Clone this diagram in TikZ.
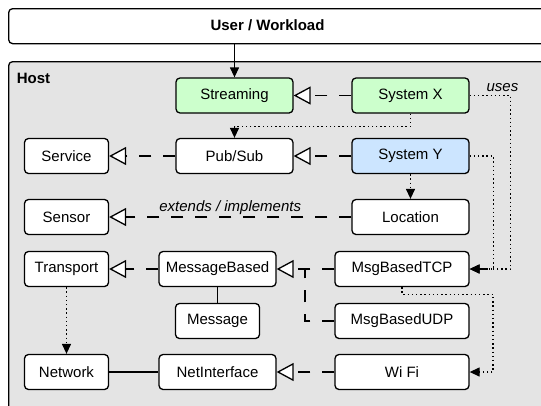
\documentclass[tikz,border=0pt]{standalone}
\usepackage{fontspec}
\setmainfont{Liberation Sans}
\usetikzlibrary{arrows.meta}

\definecolor{hostgray}{HTML}{E4E4E4}
\definecolor{sysgreen}{HTML}{CCFFCC}
\definecolor{sysblue}{HTML}{CCE5FF}

\begin{document}
\begin{tikzpicture}[
          x=1pt, y=-1pt,
          font=\fontsize{15}{18}\selectfont,
          cls/.style={
            draw=black,
            line width=1.3pt,
            rounded corners=4pt,
            fill=white,
            minimum height=35pt,
            inner sep=0pt,
          },
          narrow/.style={cls, minimum width=84pt},
          mid/.style={cls, minimum width=117pt},
          wide/.style={cls, minimum width=134pt},
          realizes/.style={
            line width=1.3pt,
            dash pattern=on 12pt off 12pt,
            -{Triangle[open, fill=white, length=17pt, width=18pt]},
          },
          uses/.style={
            line width=1.3pt,
            dash pattern=on 1.4pt off 2.8pt,
            -{Triangle[length=10pt, width=9pt]},
          },
        ]
          \useasboundingbox (0,0) rectangle (541,405);
          % outer frames
          \node[cls, anchor=north west, minimum width=600pt](user) at (8,8) {};
          \node[font=\fontsize{15}{18}\selectfont\bfseries](userlbl) at (267.5,25.5) {User / Workload};
          \node[cls, fill=hostgray, anchor=north west, minimum width=600pt, minimum height=400pt](host) at (8,61) {};
          \node[font=\fontsize{15}{18}\selectfont\bfseries](hostlbl) at (33.5,78) {Host};
          % classes
          \node[mid, fill=sysgreen](stream) at (234.5,95.5) {Streaming};
          \node[mid, fill=sysgreen](sysx) at (410.5,95.5) {System X};
          \node[narrow](service) at (66.5,156) {Service};
          \node[mid](pubsub) at (234.5,156) {Pub/Sub};
          \node[mid, fill=sysblue](sysy) at (410.5,156) {System Y};
          \node[narrow](sensor) at (66.5,217) {Sensor};
          \node[mid](loc) at (410.5,217) {Location};
          \node[narrow](transport) at (66.5,269) {Transport};
          \node[mid](mb) at (217.5,269) {MessageBased};
          \node[wide](tcp) at (402,269) {MsgBasedTCP};
          \node[narrow](msg) at (217.5,321) {Message};
          \node[wide](udp) at (402,321) {MsgBasedUDP};
          \node[narrow](net) at (66.5,372) {Network};
          \node[mid](ni) at (217.5,372) {NetInterface};
          \node[wide](wifi) at (402,372) {Wi Fi};
          \coordinate (join) at (305,269);
          \draw
              (sysx) edge [realizes] (stream)
              (pubsub) edge [realizes] (service)
              (sysy) edge [realizes] (pubsub)
              (loc) edge [realizes] node[above, inner sep=2pt, font=\fontsize{15}{18}\selectfont\itshape]{extends / implements} (sensor)
              (mb) edge [realizes] (transport)
              (tcp) edge [realizes] (mb)
              (wifi) edge [realizes] (ni)
              (sysy) edge [uses] (loc)
              (transport) edge [uses] (net);
          \draw[realizes, -] (udp.west) -| (join);
          \draw[line width=1.3pt, -{Triangle[length=10pt, width=9pt]}] (user.south -| stream.north) -- (stream);
          \draw[line width=1.3pt] (mb) -- (msg);
          \draw[line width=1.3pt] (net) -- (ni);
          \draw[uses] (sysx.south) -- ++(0,13) -| (pubsub.north);
          \draw[uses] (sysy.east) -- ++(24,0) |- (tcp.east);
          \draw[uses] (sysx.east) -- node[pos=0.8, above, inner sep=3pt, font=\fontsize{15}{18}\selectfont\itshape]{uses} ++(41,0) |- (tcp.east);
          \draw[uses] (tcp.south) -- ++(0,7) -- ++(91,0) |- (wifi.east);
        \end{tikzpicture}
\end{document}
